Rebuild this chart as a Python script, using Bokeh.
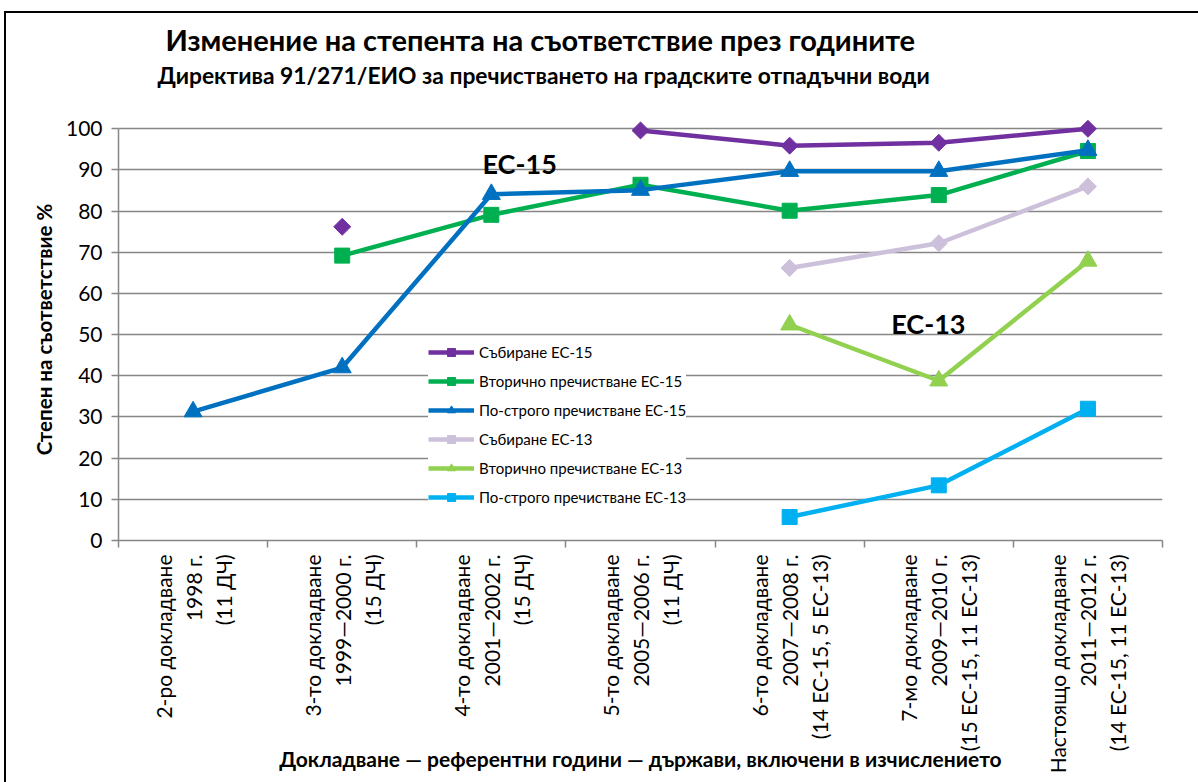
import math
from bokeh.plotting import figure
from bokeh.models import (ColumnDataSource, Range1d, FixedTicker, Label, Title,
                          Legend, LegendItem, InlineStyleSheet, LinearAxis)
from bokeh.embed import file_html
from bokeh.resources import INLINE

FONT = "Lato"
nan = float("nan")

# ---- data -------------------------------------------------------------
categories = [
    "2-ро докладване\n1998 г.\n(11 ДЧ)",
    "3-то докладване\n1999—2000 г.\n(15 ДЧ)",
    "4-то докладване\n2001—2002 г.\n(15 ДЧ)",
    "5-то докладване\n2005—2006 г.\n(11 ДЧ)",
    "6-то докладване\n2007—2008 г.\n(14 ЕС-15, 5 ЕС-13)",
    "7-мо докладване\n2009—2010 г.\n(15 ЕС-15, 11 ЕС-13)",
    "Настоящо докладване\n2011—2012 г.\n(14 ЕС-15, 11 ЕС-13)",
]
sabirane_15 = [nan, 76.2, nan, 99.6, 95.9, 96.6, 100.0]
vtorichno_15 = [nan, 69.2, 79.1, 86.4, 80.1, 83.9, 94.6]
strogo_15 = [31.3, 42.0, 84.1, 85.1, 89.7, 89.7, 94.8]
sabirane_13 = [nan, nan, nan, nan, 66.2, 72.2, 86.0]
vtorichno_13 = [nan, nan, nan, nan, 52.4, 38.8, 67.9]
strogo_13 = [nan, nan, nan, nan, 5.7, 13.4, 32.0]

series_names = [
    "Събиране ЕС-15",
    "Вторично пречистване ЕС-15",
    "По-строго пречистване ЕС-15",
    "Събиране ЕС-13",
    "Вторично пречистване ЕС-13",
    "По-строго пречистване ЕС-13",
]
y_ticks = [0, 10, 20, 30, 40, 50, 60, 70, 80, 90, 100]

title_text = "Изменение на степента на съответствие през годините"
subtitle_text = "Директива 91/271/ЕИО за пречистването на градските отпадъчни води"
x_title = "Докладване — референтни години — държави, включени в изчислението"
y_title = "Степен на съответствие %"

# ---- figure -----------------------------------------------------------
border_css = InlineStyleSheet(css=""":host { position: relative; }
:host::after { content: ''; position: absolute; left: 4px; top: 11px;
  width: 1300px; height: 900px; border: 2px solid #000;
  box-sizing: border-box; pointer-events: none; }""")

p = figure(width=1190, height=774, output_backend="svg", toolbar_location=None,
           x_range=Range1d(0, len(categories)), y_range=Range1d(0, 102.5),
           min_border_left=118, min_border_right=28, min_border_top=118,
           min_border_bottom=234, title=None, stylesheets=[border_css])
p.outline_line_color = None
p.background_fill_color = "white"
p.border_fill_color = "white"

xpos = [i + 0.5 for i in range(len(categories))]
src = ColumnDataSource(dict(x=xpos, s15=sabirane_15, v15=vtorichno_15, p15=strogo_15,
                            s13=sabirane_13, v13=vtorichno_13, p13=strogo_13))

styles = [
    ("s15", "#7030A0", "square", 12, math.pi / 4),
    ("v15", "#00B050", "square", 15, 0),
    ("p15", "#0070C0", "triangle", 18, 0),
    ("s13", "#CCC0DA", "square", 12, math.pi / 4),
    ("v13", "#92D050", "triangle", 18, 0),
    ("p13", "#00B0F0", "square", 15, 0),
]
items = []
for (col, color, marker, size, ang), name in zip(styles, series_names):
    ln = p.line("x", col, source=src, line_color=color, line_width=4.5)
    sc = p.scatter("x", col, source=src, marker=marker, size=size, angle=ang,
                   fill_color=color, line_color=color)
    items.append(LegendItem(label=name, renderers=[ln, sc]))

legend = Legend(items=items, location=(310, 33), background_fill_color="white",
                background_fill_alpha=1.0, border_line_color=None,
                label_text_font=FONT, label_text_font_size="15px",
                label_text_color="#000000", glyph_width=46, glyph_height=20,
                label_height=20, spacing=9, padding=5, margin=0, label_standoff=5)
p.add_layout(legend, "center")

# ---- axes -------------------------------------------------------------
GRAY = "#868686"
xa = p.xaxis[0]
xa.ticker = FixedTicker(ticks=xpos, minor_ticks=list(range(len(categories) + 1)))
xa.major_label_overrides = {x: c for x, c in zip(xpos, categories)}
xa.major_label_orientation = math.pi / 2
xa.major_tick_out = 0
xa.major_tick_in = 0
xa.minor_tick_out = 7
xa.minor_tick_in = 0
xa.minor_tick_line_color = GRAY
xa.minor_tick_line_width = 1.5
xa.axis_line_color = GRAY
xa.axis_line_width = 1.5
xa.major_label_text_font = FONT
xa.major_label_text_font_size = "21px"
xa.major_label_text_color = "#000000"
xa.major_label_standoff = 7
xa.axis_label = x_title
xa.axis_label_text_font = FONT
xa.axis_label_text_font_style = "bold"
xa.axis_label_text_font_size = "21px"
xa.axis_label_text_color = "#000000"
xa.axis_label_standoff = -30

ya = p.yaxis[0]
ya.ticker = FixedTicker(ticks=y_ticks)
ya.bounds = (0, 100)
ya.minor_tick_line_color = None
ya.major_tick_out = 7
ya.major_tick_in = 0
ya.major_tick_line_color = GRAY
ya.major_tick_line_width = 1.5
ya.axis_line_color = GRAY
ya.axis_line_width = 1.5
ya.major_label_text_font = FONT
ya.major_label_text_font_size = "21px"
ya.major_label_text_color = "#000000"
ya.major_label_standoff = 9
ya.axis_label = y_title
ya.axis_label_text_font = FONT
ya.axis_label_text_font_style = "bold"
ya.axis_label_text_font_size = "20.5px"
ya.axis_label_text_color = "#000000"
ya.axis_label_standoff = 7

p.xgrid.grid_line_color = None
p.ygrid.grid_line_color = GRAY
p.ygrid.grid_line_width = 1.5

# ---- titles: an invisible spacer axis, then subtitle, then main title --
spacer = LinearAxis(ticker=FixedTicker(ticks=[3.5]), axis_line_color=None,
                    major_tick_out=28, major_tick_in=0, major_tick_line_color="white",
                    major_tick_line_width=0.5,
                    minor_tick_out=0, minor_tick_in=0, minor_tick_line_color=None,
                    major_label_standoff=0, major_label_overrides={3.5: ""},
                    major_label_text_font_size="1px")
p.add_layout(spacer, "above")
p.add_layout(Title(text=subtitle_text, align="left", offset=39, text_font=FONT,
                   text_font_size="22.8px", text_font_style="bold",
                   text_color="#000000", standoff=4), "above")
p.add_layout(Title(text=title_text, align="left", offset=47, text_font=FONT,
                   text_font_size="29px", text_font_style="bold",
                   text_color="#000000", standoff=0), "above")

p.add_layout(Label(x=2.69, y=91.5, text="ЕС-15", text_align="center",
                   text_baseline="alphabetic", text_font=FONT,
                   text_font_size="27px", text_font_style="bold", text_color="#000000"))
p.add_layout(Label(x=5.43, y=52.7, text="ЕС-13", text_align="center",
                   text_baseline="alphabetic", text_font=FONT,
                   text_font_size="27px", text_font_style="bold", text_color="#000000"))

open("out.html", "w").write(file_html(p, INLINE))
